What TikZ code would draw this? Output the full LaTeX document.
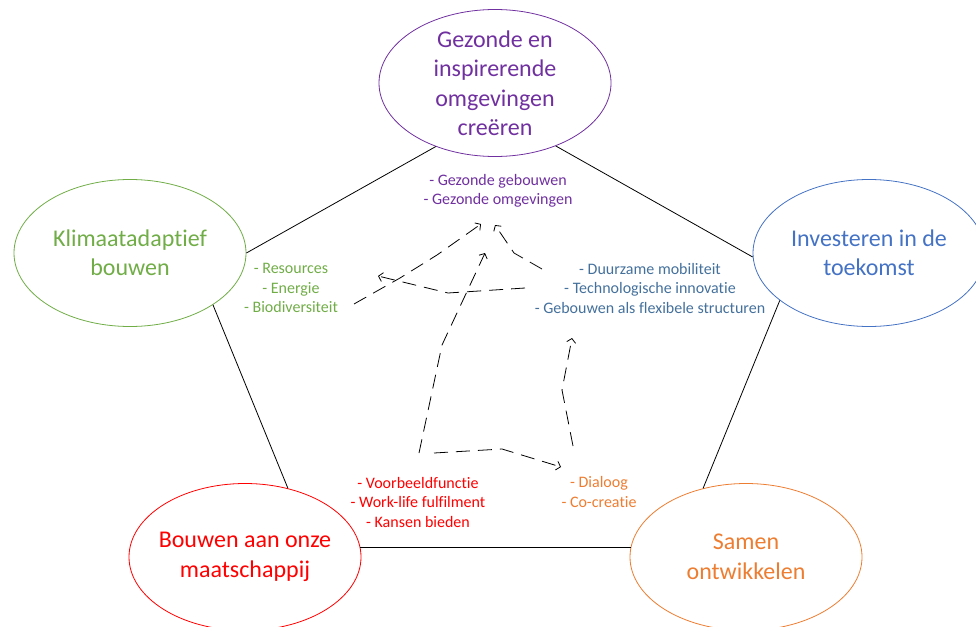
\documentclass[tikz,border=0pt]{standalone}
\usepackage{fontspec}
\setmainfont[Ligatures=NoCommon]{Carlito}
\usetikzlibrary{shapes.geometric,arrows.meta}
\definecolor{paars}{HTML}{7030A0}
\definecolor{groen}{HTML}{70AD47}
\definecolor{blauw}{HTML}{4472C4}
\definecolor{staal}{HTML}{44709C}
\definecolor{rood}{HTML}{FF0000}
\definecolor{oranje}{HTML}{ED7D31}
\tikzset{
	doel/.style={ellipse, draw, line width=.8pt, minimum width=232pt, minimum height=147pt, inner sep=0pt},
	titel/.style={font=\fontsize{24}{29.5}\selectfont, align=center, inner sep=0pt},
	lijst/.style={font=\fontsize{16}{19.5}\selectfont, align=center, inner sep=0pt},
	rand/.style={draw=black, line width=.8pt},
	pijl/.style={draw=black, line width=.8pt, dash pattern=on 14pt off 8pt, -{Straight Barb[length=4pt,width=9pt]}}
}
\begin{document}
\begin{tikzpicture}[x=1pt, y=-1pt]
	\useasboundingbox (0,0) rectangle (976,626);
	% doelen
	\node[doel, draw=paars]  (gez) at (495,83)  {};
	\node[doel, draw=groen]  (kli) at (130,253) {};
	\node[doel, draw=blauw]  (inv) at (869,253) {};
	\node[doel, draw=rood]   (bou) at (245,557) {};
	\node[doel, draw=oranje] (sam) at (746,557) {};
	\node[titel, text=paars]  (gezt) at (gez) {Gezonde en\\inspirerende\\omgevingen\\creëren};
	\node[titel, text=groen]  (klit) at (kli) {Klimaatadaptief\\bouwen};
	\node[titel, text=blauw]  (invt) at (inv) {Investeren in de\\toekomst};
	\node[titel, text=rood]   (bout) at (bou) {Bouwen aan onze\\maatschappij};
	\node[titel, text=oranje] (samt) at (sam) {Samen\\ontwikkelen};
	% randen
	\draw[rand] (gez.227) -- (kli.0);
	\draw[rand] (gez.314) -- (inv.182);
	\draw[rand] (kli.328) -- (bou.58);
	\draw[rand] (inv.208) -- (sam.122);
	\draw[rand] (bou.5)   -- (sam.175);
	% lijsten
	\node[lijst, text=paars]  (gezl) at (498,191) {- Gezonde gebouwen\\- Gezonde omgevingen};
	\node[lijst, text=groen]  (klil) at (291,288) {- Resources\\- Energie\\- Biodiversiteit};
	\node[lijst, text=staal]  (invl) at (650,288) {- Duurzame mobiliteit\\- Technologische innovatie\\- Gebouwen als flexibele structuren};
	\node[lijst, text=rood]   (boul) at (418,502) {- Voorbeeldfunctie\\- Work-life fulfilment\\- Kansen bieden};
	\node[lijst, text=oranje] (saml) at (599,492) {- Dialoog\\- Co-creatie};
	% pijlen
	\coordinate (a1) at (354,304); \coordinate (a2) at (481,224);
	\coordinate (b1) at (525,288); \coordinate (b2) at (378,276);
	\coordinate (c1) at (542,269); \coordinate (c2) at (495,225);
	\coordinate (d1) at (419,453); \coordinate (d2) at (485,253);
	\coordinate (e1) at (434,453); \coordinate (e2) at (561,467);
	\coordinate (f1) at (573,446); \coordinate (f2) at (572,338);
	\draw[pijl] (a1) -- (400,278) -- (437,255) -- (a2);
	\draw[pijl] (b1) -- (448,293) -- (b2);
	\draw[pijl] (c1) -- (514,253) -- (c2);
	\draw[pijl] (d1) -- (442,345) -- (d2);
	\draw[pijl] (e1) -- (502,449) -- (e2);
	\draw[pijl] (f1) -- (562,390) -- (f2);
\end{tikzpicture}
\end{document}
